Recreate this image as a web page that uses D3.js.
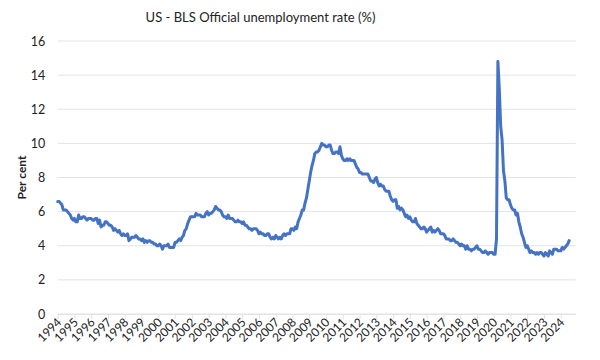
<!DOCTYPE html>
<html><head><meta charset="utf-8">
<script src="https://cdn.jsdelivr.net/npm/d3@7"></script>
<style>body{margin:0;background:#fff}svg{display:block}text{font-family:Lato,"Open Sans",sans-serif;fill:#222}</style>
</head><body><svg id="c" width="600" height="360"></svg>
<script>
const startYear = 1994;
const rate1994_2000 = [
 6.6,6.6,6.5,6.4,6.1,6.1,6.1,6.0,5.9,5.8,5.6,5.5,
 5.6,5.4,5.4,5.8,5.6,5.6,5.7,5.7,5.6,5.5,5.6,5.6,
 5.6,5.5,5.5,5.6,5.6,5.3,5.5,5.1,5.2,5.2,5.4,5.4,
 5.3,5.2,5.2,5.1,4.9,5.0,4.9,4.8,4.9,4.7,4.6,4.7,
 4.6,4.6,4.7,4.3,4.4,4.5,4.5,4.5,4.6,4.5,4.4,4.4,
 4.3,4.4,4.2,4.3,4.2,4.3,4.3,4.2,4.2,4.1,4.1,4.0,
 4.0,4.1,4.0,3.8,4.0,4.0,4.0,4.1,3.9,3.9,3.9,3.9];
const rate2001_2007 = [
 4.2,4.2,4.3,4.4,4.3,4.5,4.6,4.9,5.0,5.3,5.5,5.7,
 5.7,5.7,5.7,5.9,5.8,5.8,5.8,5.7,5.7,5.7,5.9,6.0,
 5.8,5.9,5.9,6.0,6.1,6.3,6.2,6.1,6.1,6.0,5.8,5.7,
 5.7,5.6,5.8,5.6,5.6,5.6,5.5,5.4,5.4,5.5,5.4,5.4,
 5.3,5.4,5.2,5.2,5.1,5.0,5.0,4.9,5.0,5.0,5.0,4.9,
 4.7,4.8,4.7,4.7,4.6,4.6,4.7,4.7,4.5,4.4,4.5,4.4,
 4.6,4.5,4.4,4.5,4.4,4.6,4.7,4.6,4.7,4.7,4.7,5.0];
const rate2008_2014 = [
 5.0,4.9,5.1,5.0,5.4,5.6,5.8,6.1,6.1,6.5,6.8,7.3,
 7.8,8.3,8.7,9.0,9.4,9.5,9.5,9.6,9.8,10.0,9.9,9.9,
 9.8,9.8,9.9,9.9,9.6,9.4,9.4,9.5,9.5,9.4,9.8,9.3,
 9.1,9.0,9.0,9.1,9.0,9.1,9.0,9.0,9.0,8.8,8.6,8.5,
 8.3,8.3,8.2,8.2,8.2,8.2,8.2,8.0,7.8,7.8,7.7,7.9,
 8.0,7.7,7.5,7.6,7.5,7.5,7.3,7.2,7.2,7.2,6.9,6.7,
 6.6,6.7,6.7,6.2,6.3,6.1,6.2,6.1,5.9,5.7,5.8,5.6];
const rate2015_2021 = [
 5.7,5.5,5.4,5.4,5.6,5.3,5.2,5.1,5.0,5.0,5.1,5.0,
 4.8,4.9,5.0,5.1,4.8,4.9,4.8,4.9,5.0,4.9,4.7,4.7,
 4.7,4.6,4.4,4.4,4.4,4.3,4.3,4.4,4.3,4.2,4.2,4.1,
 4.0,4.1,4.0,4.0,3.8,4.0,3.8,3.8,3.7,3.8,3.8,3.9,
 4.0,3.8,3.8,3.7,3.6,3.6,3.7,3.6,3.5,3.6,3.6,3.6,
 3.5,3.5,4.4,14.8,13.2,11.0,10.2,8.4,7.8,6.8,6.7,6.7,
 6.4,6.2,6.1,6.1,5.8,5.9,5.4,5.1,4.7,4.5,4.2,3.9];
const rate2022_2024 = [
 4.0,3.8,3.6,3.7,3.6,3.6,3.5,3.6,3.5,3.6,3.6,3.5,
 3.4,3.6,3.5,3.4,3.7,3.6,3.5,3.8,3.8,3.8,3.7,3.7,
 3.7,3.9,3.8,3.9,4.0,4.1,4.3];
const yearLabels = d3.range(1994, 2025).map(String);
const yTicks = [0,2,4,6,8,10,12,14,16];
const title = "US - BLS Official unemployment rate (%)";
const yTitle = "Per cent";

const rates = [].concat(rate1994_2000, rate2001_2007, rate2008_2014, rate2015_2021, rate2022_2024);
const data = rates.map((v,i)=>({t: startYear + i/12, v}));

const svg = d3.select("#c");
const L = 57.7, R = 575.7, T = 41, B = 314;
const x = d3.scaleLinear().domain([1994, 2024.89]).range([L, R]);
const y = d3.scaleLinear().domain([0, 16]).range([B, T]);

// gridlines
svg.append("g").selectAll("line").data(yTicks).join("line")
  .attr("x1", L).attr("x2", R).attr("y1", d=>y(d)).attr("y2", d=>y(d))
  .attr("stroke", "#e3e3e3").attr("stroke-width", 1);

// y axis labels
const ya = svg.append("g").attr("transform", `translate(${L},0)`)
  .call(d3.axisLeft(y).tickValues(yTicks).tickSize(0).tickPadding(12.5).tickFormat(d3.format("d")));
ya.select(".domain").remove();
ya.selectAll("text").attr("font-size", 12.5).attr("font-family", "Lato, sans-serif").attr("fill", "#222");

// x axis
const xa = svg.append("g").attr("transform", `translate(0,${B})`)
  .call(d3.axisBottom(x).tickValues(yearLabels.map(Number)).tickSize(5).tickFormat(d=>String(d)));
xa.select(".domain").attr("stroke", "#e3e3e3").attr("d", `M${L},0.5H${R}`);
xa.selectAll(".tick line").attr("stroke", "#e3e3e3");
xa.selectAll("text").attr("font-size", 12).attr("font-family", "Lato, sans-serif").attr("fill", "#222")
  .attr("text-anchor", "end").attr("dy", null).attr("y", 0)
  .attr("transform", "translate(4,9) rotate(-45)");

// line
svg.append("path").datum(data)
  .attr("fill", "none").attr("stroke", "#4472C4").attr("stroke-width", 3)
  .attr("stroke-linejoin", "round").attr("stroke-linecap", "round")
  .attr("d", d3.line().x(d=>x(d.t)).y(d=>y(d.v)));

svg.append("text").attr("x", 260.5).attr("y", 22).attr("text-anchor", "middle")
  .attr("font-size", 13).text(title);
svg.append("text").attr("transform", `translate(26,${(T+B)/2}) rotate(-90)`)
  .attr("text-anchor", "middle").attr("font-size", 12).attr("font-weight", "bold").text(yTitle);
</script></body></html>
